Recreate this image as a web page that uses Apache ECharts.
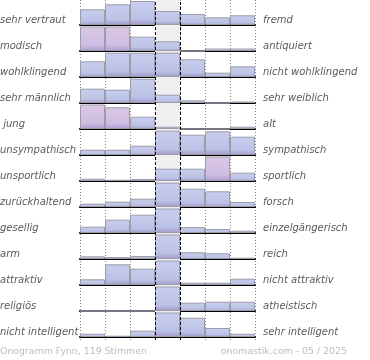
<!DOCTYPE html>
<html>
<head>
<meta charset="utf-8">
<script src="https://cdn.jsdelivr.net/npm/echarts@6/dist/echarts.min.js"></script>
<style>html,body{margin:0;padding:0;background:#fff}#c{width:370px;height:360px}</style>
</head>
<body>
<div id="c"></div>
<script>
// Scale categories (7 steps between the two adjectives)
const categories = ['1', '2', '3', '4', '5', '6', '7'];
const leftLabels = ['sehr vertraut', 'modisch', 'wohlklingend', 'sehr männlich', ' jung', 'unsympathisch', 'unsportlich', 'zurückhaltend', 'gesellig', 'arm', 'attraktiv', 'religiös', 'nicht intelligent'];
const rightLabels = ['fremd', 'antiquiert', 'nicht wohlklingend', 'sehr weiblich', 'alt', 'sympathisch', 'sportlich', 'forsch', 'einzelgängerisch', 'reich', 'nicht attraktiv', 'atheistisch', 'sehr intelligent'];

// Relative vote shares per row (row maximum ~ 24.5)
const vertraut = [15.7, 20.7, 24, 14, 11, 7.7, 9.7];
const modisch = [24.5, 24.5, 14.3, 9.7, 0, 2.5, 2.5];
const wohlklingend = [15.7, 24.3, 24.3, 24.3, 17.7, 4.3, 10.7];
const maennlich = [14.3, 13.3, 24.3, 8.3, 2.7, 0, 1.5];
const jung = [24.5, 21.7, 12.3, 2.3, 0, 0, 2.3];
const sympathisch = [5.3, 5.3, 9.3, 24.3, 20.3, 23.7, 18.3];
const sportlich = [2.3, 1.3, 2, 12.3, 12.3, 24.5, 8.3];
const zurueckhaltend = [3.3, 5.3, 8.3, 24.3, 18.3, 15.7, 5];
const gesellig = [6.3, 13.3, 18.3, 24.5, 6, 4, 2.3];
const arm = [2.7, 2, 3, 24.5, 6.7, 5.7, 1.3];
const attraktiv = [5.7, 20.7, 16.3, 24.5, 2.3, 2.3, 6.3];
const religioes = [0, 0, 0, 24.5, 8.3, 9.3, 9.3];
const intelligent = [3.3, 1.3, 6.3, 24.5, 19.3, 9, 3.3];
const rows = [vertraut, modisch, wohlklingend, maennlich, jung, sympathisch, sportlich, zurueckhaltend, gesellig, arm, attraktiv, religioes, intelligent];

// Bars shown in the pink colour: [row, column]
const pinkBars = [[1, 0], [1, 1], [4, 0], [4, 1], [6, 5]];

const footerLeft = 'Onogramm Fynn, 119 Stimmen';
const footerRight = 'onomastik.com - 05 / 2025';

const ROW_H = 26, GRID_L = 80, GRID_W = 175, BAR_H = 25;

const blueGrad = new echarts.graphic.LinearGradient(0, 0, 0, 1, [
  {offset: 0, color: '#c7ceed'}, {offset: 0.75, color: '#bcc2e5'}, {offset: 1, color: '#a199cc'}
]);
const pinkGrad = new echarts.graphic.LinearGradient(0, 0, 0, 1, [
  {offset: 0, color: '#ddc6e7'}, {offset: 0.75, color: '#cfbde3'}, {offset: 1, color: '#a99cd0'}
]);

const grids = [], xAxes = [], yAxes = [], series = [], graphics = [];
rows.forEach((vals, i) => {
  grids.push({left: GRID_L, width: GRID_W, top: ROW_H * i, height: BAR_H});
  xAxes.push({type: 'category', gridIndex: i, data: categories, boundaryGap: true,
    axisLine: {lineStyle: {color: '#000', width: 2}}, axisTick: {show: false}, axisLabel: {show: false}, splitLine: {show: false}});
  yAxes.push({type: 'value', gridIndex: i, min: 0, max: 25, show: false, splitLine: {show: false}});
  series.push({type: 'bar', xAxisIndex: i, yAxisIndex: i, barWidth: '100%', barCategoryGap: 0, z: 3,
    silent: true, animation: false,
    data: vals.map((v, j) => ({value: v, itemStyle: {color: pinkBars.some(p => p[0] === i && p[1] === j) ? pinkGrad : blueGrad}})),
    itemStyle: {borderColor: '#9c9cab', borderWidth: 1}
  });
  graphics.push({type: 'text', x: 0, y: ROW_H * i + 20, silent: true,
    style: {text: leftLabels[i], fill: '#5a5a5a', font: 'italic 10px "DejaVu Sans"', verticalAlign: 'middle', align: 'left'}});
  graphics.push({type: 'text', x: 263, y: ROW_H * i + 20, silent: true,
    style: {text: rightLabels[i], fill: '#5a5a5a', font: 'italic 10px "DejaVu Sans"', verticalAlign: 'middle', align: 'left'}});
});

// overlay grid for the vertical guide lines and the neutral column
const ov = rows.length;
grids.push({left: GRID_L, width: GRID_W, top: 0, height: 340});
xAxes.push({type: 'value', gridIndex: ov, min: 0, max: 7, interval: 1, axisLine: {show: false}, axisTick: {show: false}, axisLabel: {show: false},
  splitLine: {show: true, lineStyle: {color: '#8a8a8a', width: 1, type: [1, 2]}}});
yAxes.push({type: 'value', gridIndex: ov, min: 0, max: 1, show: false, splitLine: {show: false}});
series.push({type: 'line', xAxisIndex: ov, yAxisIndex: ov, data: [], z: 1, silent: true, animation: false,
  markArea: {silent: true, itemStyle: {color: '#efefef'}, data: [[{xAxis: 3, yAxis: 1}, {xAxis: 4, yAxis: 0.0088}]]}});
series.push({type: 'line', xAxisIndex: ov, yAxisIndex: ov, data: [], z: 10, silent: true, animation: false,
  markLine: {silent: true, symbol: 'none', label: {show: false}, lineStyle: {color: '#000', width: 1, type: [3, 2]},
    data: [{xAxis: 3}, {xAxis: 4}]}});

graphics.push({type: 'text', x: 0, y: 352, silent: true,
  style: {text: footerLeft, fill: '#bdbdbd', font: '9.4px "DejaVu Sans"', verticalAlign: 'middle', align: 'left'}});
graphics.push({type: 'text', x: 347, y: 352, silent: true,
  style: {text: footerRight, fill: '#bdbdbd', font: '9.4px "DejaVu Sans"', verticalAlign: 'middle', align: 'right'}});

const chart = echarts.init(document.getElementById('c'), null, {renderer: 'canvas'});
chart.setOption({animation: false, grid: grids, xAxis: xAxes, yAxis: yAxes, series: series, graphic: graphics});
</script>
</body>
</html>
